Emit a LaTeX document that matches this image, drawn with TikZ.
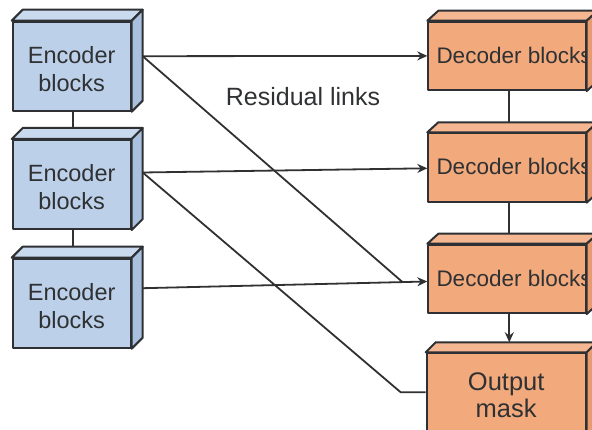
\documentclass[tikz,border=0pt]{standalone}
\usepackage{fontspec}
\setmainfont{Liberation Sans}
\usetikzlibrary{calc,arrows.meta}

\definecolor{edge}{HTML}{2E3033}
\definecolor{ink}{HTML}{2F3133}
\definecolor{encfront}{HTML}{BCD0E9}
\definecolor{enctop}{HTML}{C9DAEF}
\definecolor{encside}{HTML}{A9C1DF}
\definecolor{decfront}{HTML}{F2A97C}
\definecolor{dectop}{HTML}{F5B792}
\definecolor{decside}{HTML}{E89B6E}

% top and side faces of a block: node name, dx, dy, top colour, side colour
\newcommand\cubefaces[5]{%
  \draw[face, fill=#4] (#1.north west) -- (#1.north east)
    -- ($(#1.north east)+(#2,-#3)$) -- ($(#1.north west)+(#2,-#3)$) -- cycle;
  \draw[face, fill=#5] (#1.north east) -- ($(#1.north east)+(#2,-#3)$)
    -- ($(#1.south east)+(#2,-#3)$) -- (#1.south east) -- cycle;
}

\begin{document}
\begin{tikzpicture}[x=1pt, y=-1pt, line join=round,
  face/.style={draw=edge, line width=2pt},
  encbox/.style={face, fill=encfront, minimum width=118pt, minimum height=89pt, inner sep=0pt},
  decbox/.style={face, fill=decfront, minimum width=157.4pt, minimum height=68.3pt, inner sep=0pt},
  outbox/.style={face, fill=decfront, minimum width=159pt, minimum height=84pt, inner sep=0pt},
  enctext/.style={text=ink, font=\fontsize{23.5}{28}\selectfont, align=center, inner sep=0pt},
  outtext/.style={text=ink, font=\fontsize{25.5}{27}\selectfont, align=center, inner sep=0pt},
  dectext/.style={text=ink, font=\fontsize{22.5}{27}\selectfont, inner sep=0pt, anchor=base west},
  link/.style={draw=ink, line width=1.8pt},
  arr/.style={link, -{Stealth[length=10pt, width=9pt]}}]

\useasboundingbox (0,0) rectangle (592,430);
\clip (0,0) rectangle (592,430);

% encoder column
\node[encbox] (enc1) at (71.7,66.2) {};
\node[encbox] (enc2) at (71.7,184.5) {};
\node[encbox] (enc3) at (71.7,303.2) {};
\node[enctext] (enc1-t) at ($(enc1.center)+(0,3)$) {Encoder\\blocks};
\node[enctext] (enc2-t) at ($(enc2.center)+(0,3)$) {Encoder\\blocks};
\node[enctext] (enc3-t) at ($(enc3.center)+(0,3)$) {Encoder\\blocks};
\cubefaces{enc1}{11}{11}{enctop}{encside}
\cubefaces{enc2}{11}{11}{enctop}{encside}
\cubefaces{enc3}{11}{11}{enctop}{encside}

% decoder column
\node[decbox] (dec1) at (507,55.9) {};
\node[decbox] (dec2) at (507,167.5) {};
\node[decbox] (dec3) at (507,278.9) {};
\node[outbox] (out) at (506.2,395.3) {};
\node[dectext] (dec1-t) at ($(dec1.west)+(9,7.4)$) {Decoder blocks};
\node[dectext] (dec2-t) at ($(dec2.west)+(9,7.4)$) {Decoder blocks};
\node[dectext] (dec3-t) at ($(dec3.west)+(9,7.4)$) {Decoder blocks};
\node[outtext] (out-t) at ($(out.center)+(0,-0.5)$) {Output\\mask};
\cubefaces{dec1}{11}{10}{dectop}{decside}
\cubefaces{dec2}{11}{10}{dectop}{decside}
\cubefaces{dec3}{11}{10}{dectop}{decside}
\cubefaces{out}{10}{10}{dectop}{decside}

% reference points on the blocks
\coordinate (enc1-out) at ($(enc1.east)+(11,-10)$);
\coordinate (enc2-out) at ($(enc2.east)+(11,-12)$);
\coordinate (enc3-out) at ($(enc3.east)+(11,-15)$);
\coordinate (enc2-back) at ($(enc2.north)+(11,-11)$);
\coordinate (enc3-back) at ($(enc3.north)+(11,-11)$);
\coordinate (e1b) at ($(enc1.south)+(1.3,0)$);
\coordinate (e2b) at ($(enc2.south)+(1.3,0)$);
\coordinate (dec2-back) at ($(dec2.north)+(11,-10)$);
\coordinate (dec3-back) at ($(dec3.north)+(11,-10)$);
\coordinate (out-back) at ($(out.north)+(10,-10)$);
\coordinate (d1b) at ($(dec1.south)+(2.3,0)$);
\coordinate (d2b) at ($(dec2.south)+(2.3,0)$);
\coordinate (d3b) at ($(dec3.south)+(2.3,0)$);
\coordinate (dec2-in) at ($(dec2.west)+(0,0.8)$);
\coordinate (dec3-in) at ($(dec3.west)+(0,2.6)$);
\coordinate (out-in) at ($(out.west)+(0,-3)$);
\coordinate (k1) at ($(dec3-in)+(-25,0.4)$);
\coordinate (k2) at ($(out-in)+(-25,0)$);

% chain links
\draw[link] (e1b) -- (e1b |- enc2-back);
\draw[link] (e2b) -- (e2b |- enc3-back);
\draw[link] (d1b) -- (d1b |- dec2-back);
\draw[link] (d2b) -- (d2b |- dec3-back);
\draw[arr] (d3b) -- (d3b |- out-back);

% residual links
\draw[arr] (enc1-out) -- (dec1.west);
\draw[arr] (enc2-out) -- (dec2-in);
\draw[arr] (enc3-out) -- (dec3-in);
\draw[link] (enc1-out) -- (k1);
\draw[link] (enc2-out) -- (k2) -- (out-in);

\node[text=ink, font=\fontsize{25}{30}\selectfont, inner sep=0pt, anchor=base] (res) at (303,106) {Residual links};
\end{tikzpicture}
\end{document}
